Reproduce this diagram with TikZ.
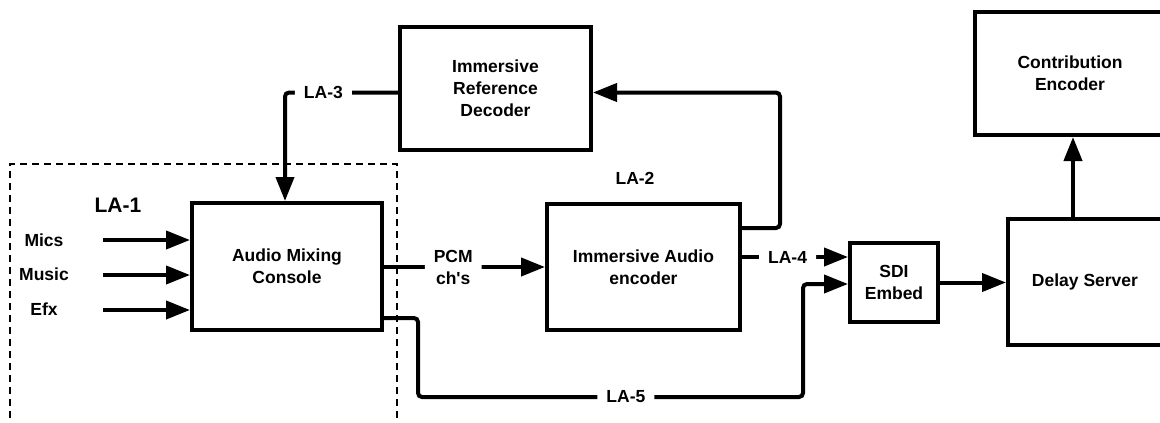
\documentclass[tikz,border=0pt]{standalone}
\usepackage{fontspec}
\setmainfont{Liberation Sans}[Ligatures=TeXOff]
\usetikzlibrary{arrows.meta}
\tikzset{
  box/.style={draw, line width=4pt, rectangle, align=center, font=\fontsize{17.5}{22}\selectfont\bfseries, inner sep=0pt},
  conn/.style={line width=4pt, rounded corners=4pt},
  arr/.style={conn, -{Triangle[length=24pt,width=18pt]}},
  lbl/.style={fill=white, font=\fontsize{17.5}{22}\selectfont\bfseries, inner xsep=9pt, inner ysep=2pt, align=center},
  txt/.style={font=\fontsize{17.5}{22}\selectfont\bfseries, inner sep=0pt},
  dashbox/.style={line width=1.2pt, dash pattern=on 7pt off 5pt},
}
\begin{document}
\begin{tikzpicture}[x=1pt,y=-1pt]
\useasboundingbox (0,0) rectangle (1160,423);
\clip (0,0) rectangle (1160,423);
% dashed group
\draw[dashbox] (10,430) -- (10,164) -- (397,164) -- (397,430);
% boxes
\node[box, minimum width=190pt, minimum height=127pt] (amc) at (287,266.5) {Audio Mixing\\Console};
\node[box, minimum width=191pt, minimum height=123pt] (ird) at (495.5,88.5) {Immersive\\Reference\\Decoder};
\node[box, minimum width=193pt, minimum height=126pt] (iae) at (643.5,267) {Immersive Audio\\encoder};
\node[box, minimum width=88pt, minimum height=79pt] (sdi) at (894,282.5) {SDI\\Embed};
\node[box, minimum width=154pt, minimum height=126pt] (ds) at (1085,282) {Delay Server};
\node[box, minimum width=190pt, minimum height=123pt] (ce) at (1070,73.5) {Contribution\\Encoder};
% input labels
\node[txt] (mics) at (44,240) {Mics};
\node[txt] (music) at (44,274) {Music};
\node[txt] (efx) at (44,309) {Efx};
\node[font=\fontsize{21}{24}\selectfont\bfseries, inner sep=0pt] (la1) at (118,205) {LA-1};
\node[txt] (la2) at (635,178) {LA-2};
\coordinate (i1) at (103,240);
\coordinate (i2) at (103,275);
\coordinate (i3) at (103,310);
% inputs
\draw[arr] (i1) -- (i1 -| amc.west);
\draw[arr] (i2) -- (i2 -| amc.west);
\draw[arr] (i3) -- (i3 -| amc.west);
% LA-3
\draw[arr] ([yshift=-4pt]ird.west) -| node[lbl, pos=0.33] {LA-3} ([xshift=-2pt]amc.north);
% PCM
\draw[arr] (amc.east |- 0,267) -- node[lbl, pos=0.43] {PCM\\ch's} (iae.west |- 0,267);
% LA-2 loop
\coordinate (c2) at (780,92.5);
\draw[arr] ([yshift=39pt]iae.east) -| (c2) -- ([yshift=-4pt]ird.east);
% LA-4
\draw[arr] (iae.east |- 0,257) -- node[lbl, pos=0.43] {LA-4} (sdi.west |- 0,257);
% LA-5
\coordinate (c5a) at (418,318);
\coordinate (c5b) at (418,397);
\coordinate (c5c) at (803,397);
\coordinate (c5d) at (803,284);
\draw[arr] (amc.east |- c5a) -- (c5a) -- (c5b) -- node[lbl, pos=0.54] {LA-5} (c5c) -- (c5d) -- (sdi.west |- c5d);
% SDI -> Delay
\draw[arr] (sdi.east) -- (sdi.east -| ds.west);
% Delay -> Contribution
\draw[arr] ([xshift=-12pt]ds.north) -- ([xshift=-12pt]ds.north |- ce.south);
\end{tikzpicture}
\end{document}
